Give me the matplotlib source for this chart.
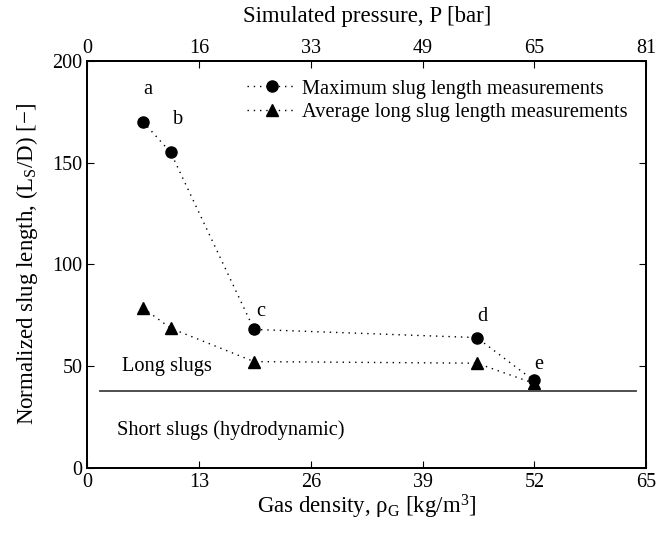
""" slug_length_plot.py
"""

import matplotlib
matplotlib.use('Agg')
import matplotlib.pyplot as plt

plt.rcParams['font.family'] = ['Liberation Serif', 'DejaVu Serif']
plt.rcParams['mathtext.fontset'] = 'custom'
plt.rcParams['mathtext.rm'] = 'Liberation Serif'
plt.rcParams['mathtext.it'] = 'Liberation Serif:italic'

# measured data (gas density in kg/m3, normalized slug length)
rho_g = [6.5, 9.7, 19.4, 45.3, 51.9]
max_slug = [170, 155, 68, 64, 43]
avg_slug = [78.5, 68.6, 52.2, 51.4, 41.6]
point_labels = ['a', 'b', 'c', 'd', 'e']
label_pos_x = [7.1, 10.6, 20.2, 46.0, 52.5]
label_pos_y = [186, 171, 77, 74.5, 50.6]

# boundary between long and short slugs
boundary_y = 37.5
boundary_x = [1.5, 63.8]

bottom_ticks = [0, 13, 26, 39, 52, 65]
top_tick_labels = ['0', '16', '33', '49', '65', '81']
y_ticks = [0, 50, 100, 150, 200]

dotted = (0, (1, 3.5))

fig = plt.figure(figsize=(6.56, 5.34), dpi=100)
ax = fig.add_axes([0.133, 0.124, 0.852, 0.762])

ax.plot(rho_g, max_slug, linestyle=dotted, color='k', lw=1.0, marker='o', ms=8,
        label='Maximum slug length measurements')
ax.plot(rho_g, avg_slug, linestyle=dotted, color='k', lw=1.0, marker='^', ms=8,
        label='Average long slug length measurements')
ax.plot(boundary_x, [boundary_y, boundary_y], '-', color='0.25', lw=1.3)

for lx, ly, s in zip(label_pos_x, label_pos_y, point_labels):
    ax.text(lx, ly, s, fontsize=14.7, ha='center', va='center')

ax.text(4.0, 50, 'Long slugs', fontsize=14.7, va='center')
ax.text(3.5, 18.7, 'Short slugs (hydrodynamic)', fontsize=14.7, va='center')

ax.set_xlim(0, 65)
ax.set_ylim(0, 200)
ax.set_xticks(bottom_ticks)
ax.set_yticks(y_ticks)
ax.tick_params(direction='in', length=5, labelsize=14.5, right=True)
ax.set_xlabel(r'Gas density, ρ$_\mathrm{G}$ [kg/m$^\mathrm{3}$]', fontsize=16.5, labelpad=1)
ax.set_ylabel(r'Normalized slug length, (L$_\mathrm{S}$/D) [−]', fontsize=16.5, labelpad=9)

leg = ax.legend(loc='upper right', frameon=False, fontsize=14.7, handlelength=2.45,
                handletextpad=0.25, borderaxespad=0.5, labelspacing=0.2)

# secondary axis with the simulated pressure
ax2 = ax.twiny()
ax2.set_xlim(ax.get_xlim())
ax2.set_xticks(bottom_ticks)
ax2.set_xticklabels(top_tick_labels)
ax2.tick_params(direction='in', length=5, labelsize=14.5, pad=2)
ax2.set_xlabel('Simulated pressure, P [bar]', fontsize=16.5, labelpad=12)

for a in (ax, ax2):
    for sp in a.spines.values():
        sp.set_linewidth(1.3)

plt.savefig('out.png', dpi=100)
